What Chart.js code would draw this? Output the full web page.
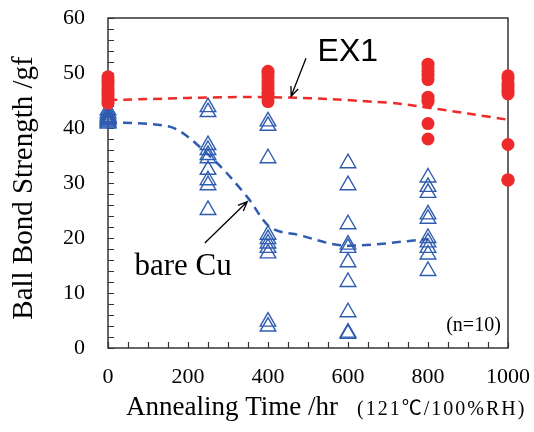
<!DOCTYPE html>
<html><head><meta charset="utf-8">
<script src="https://cdn.jsdelivr.net/npm/chart.js@4/dist/chart.umd.min.js"></script>
<style>html,body{margin:0;padding:0;background:#fff;}</style>
</head><body>
<canvas id="c" width="534" height="432"></canvas>
<script>
// EX1 (red circles) ball bond strength per annealing time
const ex1At0    = [49.3, 48.7, 48.1, 47.5, 47.0, 46.5, 46.0, 45.5, 45.0, 44.5];
const ex1At400  = [50.3, 49.8, 49.2, 48.5, 47.8, 47.2, 46.5, 46.0, 45.5, 44.8];
const ex1At800  = [51.6, 51.0, 50.3, 49.6, 48.8, 45.6, 45.1, 44.8, 40.8, 38.0];
const ex1At1000 = [49.5, 49.0, 48.2, 47.6, 47.0, 46.6, 46.2, 37.0, 30.6, 30.5];
// bare Cu (blue triangles)
const cuAt0   = [43.2, 42.7, 42.3, 42.0, 41.8, 41.6, 41.4, 41.2, 41.0, 40.8];
const cuAt250 = [43.8, 42.9, 36.9, 36.0, 35.1, 34.5, 32.4, 30.5, 29.6, 25.1];
const cuAt400 = [41.2, 40.4, 34.5, 20.6, 19.8, 19.0, 18.2, 17.2, 4.8, 3.9];
const cuAt600 = [33.6, 29.6, 22.5, 18.8, 18.2, 15.6, 12.0, 6.5, 2.8, 2.6];
const cuAt800 = [31.0, 29.3, 28.2, 24.3, 23.5, 20.0, 19.2, 18.2, 17.0, 14.0];
// dashed trend lines
const ex1TrendX = [0, 400, 700, 800, 1000];
const ex1TrendY = [45.1, 45.6, 44.6, 43.7, 41.5];
const cuTrendX = [0, 150, 250, 350, 400, 480, 600, 800];
const cuTrendY = [41.0, 40.3, 35.2, 27.3, 22.3, 20.5, 18.6, 19.8];
// axis ticks
const xTicks = [0, 200, 400, 600, 800, 1000];
const yTicks = [0, 10, 20, 30, 40, 50, 60];

const pts = (t, arr) => arr.map(v => ({x: t, y: v}));
const zip = (xs, ys) => xs.map((x, i) => ({x, y: ys[i]}));

const RED = '#ee2a2a', BLUE = '#2f5cb0', SERIF = '"Liberation Serif", "Times New Roman", "Noto Sans CJK JP", serif';

const deco = {
  id: 'deco',
  beforeDatasetsDraw(chart) {
    const {ctx, chartArea: a, scales: {x, y}} = chart;
    ctx.save();
    ctx.strokeStyle = '#333'; ctx.lineWidth = 1.5;
    ctx.strokeRect(a.left, a.top, a.right - a.left, a.bottom - a.top);
    ctx.lineWidth = 1.2;
    ctx.beginPath();
    for (let v = 0; v <= 60; v += 2) {
      const py = Math.round(y.getPixelForValue(v)) + 0.5;
      ctx.moveTo(a.left, py); ctx.lineTo(a.left + 6, py);
    }
    for (let v = 0; v <= 1000; v += 50) {
      const px = Math.round(x.getPixelForValue(v)) + 0.5;
      ctx.moveTo(px, a.bottom); ctx.lineTo(px, a.bottom - 6);
    }
    ctx.stroke();
    ctx.restore();
  },
  afterDatasetsDraw(chart) {
    const {ctx, scales: {x, y}} = chart;
    const arrow = (x1, y1, x2, y2) => {
      const p1 = [x.getPixelForValue(x1), y.getPixelForValue(y1)];
      const p2 = [x.getPixelForValue(x2), y.getPixelForValue(y2)];
      const ang = Math.atan2(p2[1] - p1[1], p2[0] - p1[0]);
      ctx.beginPath();
      ctx.moveTo(p1[0], p1[1]); ctx.lineTo(p2[0], p2[1]);
      const L = 10, w = 0.4;
      ctx.moveTo(p2[0] - L * Math.cos(ang - w), p2[1] - L * Math.sin(ang - w));
      ctx.lineTo(p2[0], p2[1]);
      ctx.lineTo(p2[0] - L * Math.cos(ang + w), p2[1] - L * Math.sin(ang + w));
      ctx.stroke();
    };
    ctx.save();
    ctx.strokeStyle = '#000'; ctx.lineWidth = 1.3; ctx.fillStyle = '#000';
    arrow(495, 52.7, 458, 45.8);
    arrow(242, 19.1, 348, 26.6);
    ctx.textBaseline = 'middle';
    ctx.font = '32px "Liberation Sans", Arial, sans-serif';
    ctx.textAlign = 'left';
    ctx.fillText('EX1', x.getPixelForValue(524), y.getPixelForValue(53.8));
    ctx.font = '31px ' + SERIF;
    ctx.fillText('bare Cu', x.getPixelForValue(66), y.getPixelForValue(14.8));
    ctx.font = '20px ' + SERIF;
    ctx.textAlign = 'right';
    ctx.fillText('(n=10)', x.getPixelForValue(982), y.getPixelForValue(4));
    ctx.restore();
  },
  afterDraw(chart) {
    const {ctx} = chart;
    ctx.save();
    ctx.fillStyle = '#000';
    ctx.textBaseline = 'middle';
    ctx.font = '27px ' + SERIF;
    ctx.textAlign = 'left';
    ctx.fillText('Annealing Time /hr', 126, 408);
    ctx.font = '20px ' + SERIF;
    ctx.letterSpacing = '2px';
    ctx.fillText('(121\u2103/100%RH)', 357, 410);
    ctx.letterSpacing = '0px';
    ctx.translate(24, 188);
    ctx.rotate(-Math.PI / 2);
    ctx.textAlign = 'center';
    ctx.font = '29px ' + SERIF;
    ctx.fillText('Ball Bond Strength /gf', 0, 0);
    ctx.restore();
  }
};

new Chart(document.getElementById('c'), {
  type: 'scatter',
  data: {
    datasets: [
      {
        label: 'EX1 trend', data: zip(ex1TrendX, ex1TrendY), showLine: true, tension: 0.4,
        borderColor: RED, borderWidth: 2.5, borderDash: [9, 6], pointRadius: 0, clip: false, order: 3
      },
      {
        label: 'bare Cu trend', data: zip(cuTrendX, cuTrendY), showLine: true, cubicInterpolationMode: 'monotone',
        borderColor: BLUE, borderWidth: 2.5, borderDash: [9, 6], pointRadius: 0, clip: false, order: 3
      },
      {
        label: 'bare Cu',
        data: [...pts(0, cuAt0), ...pts(250, cuAt250), ...pts(400, cuAt400), ...pts(600, cuAt600), ...pts(800, cuAt800)],
        pointStyle: 'triangle', pointRadius: 9, pointBorderColor: BLUE, pointBackgroundColor: 'rgba(255,255,255,0)',
        pointBorderWidth: 1.4, clip: false, order: 2
      },
      {
        label: 'EX1',
        data: [...pts(0, ex1At0), ...pts(400, ex1At400), ...pts(800, ex1At800), ...pts(1000, ex1At1000)],
        pointStyle: 'circle', pointRadius: 6.5, pointBackgroundColor: RED, pointBorderColor: RED,
        pointBorderWidth: 0, clip: false, order: 1
      }
    ]
  },
  options: {
    responsive: false, animation: false, devicePixelRatio: 1,
    layout: {padding: {left: 0, top: 18, right: 26, bottom: 0}},
    plugins: {legend: {display: false}, tooltip: {enabled: false}},
    scales: {
      x: {
        type: 'linear', min: 0, max: 1000,
        afterBuildTicks: s => { s.ticks = xTicks.map(v => ({value: v})); },
        afterFit: s => { s.height = 84; s.paddingLeft = 0; s.paddingRight = 0; },
        grid: {display: false, drawTicks: false}, border: {display: false},
        ticks: {color: '#000', font: {family: SERIF, size: 22}, padding: 16, maxRotation: 0, callback: v => String(v)}
      },
      y: {
        min: 0, max: 60,
        afterBuildTicks: s => { s.ticks = yTicks.map(v => ({value: v})); },
        afterFit: s => { s.width = 108; s.paddingTop = 0; s.paddingBottom = 0; },
        grid: {display: false, drawTicks: false}, border: {display: false},
        ticks: {color: '#000', font: {family: SERIF, size: 22}, padding: 23, callback: v => String(v)}
      }
    }
  },
  plugins: [deco]
});
</script>
</body></html>
